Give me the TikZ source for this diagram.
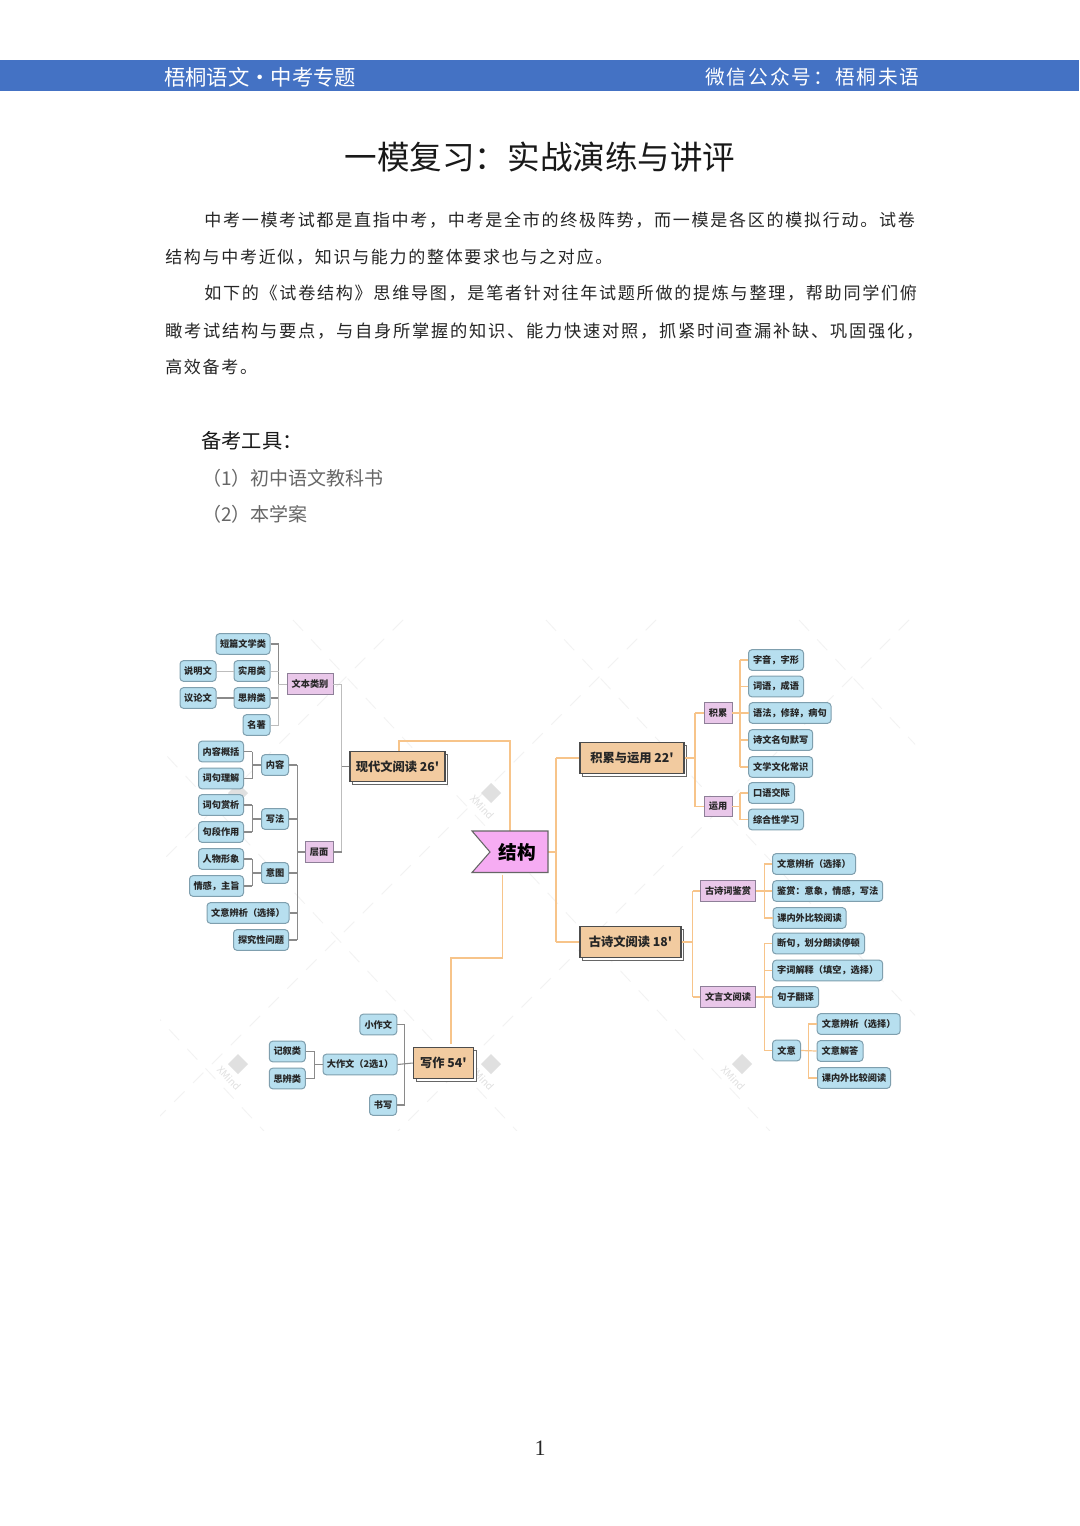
\documentclass[tikz,border=0pt]{standalone}
\usepackage{fontspec}
\usetikzlibrary{shadows}
\setmainfont{Noto Sans CJK SC}
\newfontfamily\mapfont{Noto Sans CJK SC}
\newfontfamily\bodyfont[LetterSpace=10]{Noto Sans CJK SC}
\newfontfamily\numfont{Liberation Serif}
\definecolor{barblue}{HTML}{4472C4}
\definecolor{leaffill}{HTML}{B7DFEF}
\definecolor{leafline}{HTML}{7F9FAE}
\definecolor{subfill}{HTML}{E9C7E9}
\definecolor{subline}{HTML}{8E7F98}
\definecolor{mainfill}{HTML}{F2CBA0}
\definecolor{hubfill}{HTML}{F6ACF3}
\definecolor{orangeline}{HTML}{F7C48A}
\definecolor{grayline}{HTML}{8A8A8A}
\definecolor{lightline}{HTML}{BDBDBD}
\definecolor{faint}{HTML}{F2F2F2}
\tikzset{
  leaf/.style={draw=leafline,fill=leaffill,rounded corners=2.6pt,line width=.75pt,inner sep=0pt,
    minimum height=15.5pt,minimum width=#1*0.75pt,font=\fontsize{6.9pt}{8pt}\selectfont\bfseries,text=black!85},
  sub/.style={draw=subline,fill=subfill,line width=.7pt,inner sep=0pt,
    minimum height=15.2pt,minimum width=#1*0.75pt,font=\fontsize{6.9pt}{8pt}\selectfont\bfseries,text=black!85},
  mainbox/.style={draw=black!70,fill=mainfill,line width=.8pt,inner sep=0pt,
    minimum height=23pt,minimum width=#1*0.75pt,font=\mapfont\fontsize{9.2pt}{11pt}\selectfont\bfseries,text=black!85,
    copy shadow={shadow xshift=2.2pt,shadow yshift=-2.2pt,draw=black!60,fill=white}},
  bodyline/.style={anchor=west,inner sep=0pt,text=black!85,font=\bodyfont\fontsize{#1}{15pt}\selectfont},
  bodyline/.default=12.75pt,
  toolline/.style={anchor=west,inner sep=0pt,text=black!60,font=\fontsize{14.25pt}{16pt}\selectfont},
  oline/.style={draw=orangeline,line width=.9pt},
  gline/.style={draw=grayline,line width=.8pt},
  lline/.style={draw=lightline,line width=.7pt},
  lattice/.style={draw=faint,line width=.6pt,dash pattern=on 11pt off 9pt},
  wmtext/.style={rotate=-47,inner sep=0pt,text=black!12,font=\fontsize{7.5pt}{8pt}\selectfont},
  hubtextstyle/.style={inner sep=0pt,text=black,font=\fontsize{14pt}{16pt}\selectfont\bfseries}
}
\begin{document}
\begin{tikzpicture}[x=0.75pt,y=-0.75pt]
\useasboundingbox (0,0) rectangle (1080,1526);
\fill[white] (0,0) rectangle (1080,1526);

% header
\fill[barblue] (0,60.5) rectangle (1079,91);
\node[inner sep=0pt,anchor=west,text=white,font=\fontsize{16pt}{18pt}\selectfont] (hl) at (164,77.5) {梧桐语文·中考专题};
\node[inner sep=0pt,anchor=west,text=white,font=\bodyfont\fontsize{14.75pt}{16pt}\selectfont] (hr) at (705,77.5) {微信公众号：梧桐未语};

% title and body
\node[inner sep=0pt,text=black!90,font=\fontsize{24.4pt}{28pt}\selectfont] (title) at (540,157) {一模复习：实战演练与讲评};
\node[bodyline=12.78pt] (b1) at (204,220) {中考一模考试都是直指中考，中考是全市的终极阵势，而一模是各区的模拟行动。试卷};
\node[bodyline] (b2) at (165,257) {结构与中考近似，知识与能力的整体要求也与之对应。};
\node[bodyline=12.82pt] (b3) at (204,293) {如下的《试卷结构》思维导图，是笔者针对往年试题所做的提炼与整理，帮助同学们俯};
\node[bodyline=12.95pt] (b4) at (165,331) {瞰考试结构与要点，与自身所掌握的知识、能力快速对照，抓紧时间查漏补缺、巩固强化，};
\node[bodyline] (b5) at (165,367) {高效备考。};
\node[anchor=west,inner sep=0pt,text=black!90,font=\fontsize{15.2pt}{18pt}\selectfont] (t0) at (201,441) {备考工具：};
\node[toolline] (t1) at (202,478) {（1）初中语文教科书};
\node[toolline] (t2) at (202,514.5) {（2）本学案};

% faint lattice and watermarks behind the map
\begin{scope}
\clip (160,615) rectangle (915,1130);
\foreach \k in {-3,-2,-1,0,1,2}{
  \draw[lattice] ({293+\k*253},620) -- ({293+\k*253+560},{620+600});
  \draw[lattice] ({403+\k*253},620) -- ({403+\k*253-560},{620+560});
}
\end{scope}
\foreach \wx/\wy/\wn in {491/793/wma,491/1064/wmc,238/1064/wmd,742/1064/wme}{
  \fill[black!12] (\wx,\wy-10) -- (\wx+10,\wy) -- (\wx,\wy+10) -- (\wx-10,\wy) -- cycle;
  \node[wmtext] (\wn) at (\wx-9,\wy+14) {XMind};
}
\fill[black!12] (238,783) -- (248,793) -- (238,803) -- (228,793) -- cycle;

% hub anchor points
\coordinate (hA) at (548,852);
\coordinate (hT) at (510,831);
\coordinate (hB) at (502.5,874.5);

% main topics
\node[mainbox=95] (m1) at (397.5,766.5) {现代文阅读 26'};
\node[mainbox=104] (m2) at (632,758) {积累与运用 22'};
\node[mainbox=101] (m3) at (630.5,942) {古诗文阅读 18'};
\node[mainbox=60] (m4) at (443.3,1063) {写作 54'};

% left upper
\node[sub=46] (wb) at (310,684) {文本类别};
\node[leaf=54] (a1) at (243,644) {短篇文学类};
\node[leaf=36] (a2) at (252,671) {实用类};
\node[leaf=36] (a2x) at (198,671) {说明文};
\node[leaf=36] (a3) at (252,698) {思辨类};
\node[leaf=36] (a3x) at (198,698) {议论文};
\node[leaf=27] (a4) at (256.5,725) {名著};

\node[sub=28] (cm) at (319,852) {层面};
\node[leaf=27] (c1) at (275,765) {内容};
\node[leaf=27] (c2) at (275,819) {写法};
\node[leaf=27] (c3) at (275,873) {意图};
\node[leaf=82] (c4) at (248,913) {文意辨析（选择）};
\node[leaf=55] (c5) at (261,940) {探究性问题};
\node[leaf=45] (d1) at (221,751.5) {内容概括};
\node[leaf=45] (d2) at (221,778.5) {词句理解};
\node[leaf=45] (d3) at (221,805) {词句赏析};
\node[leaf=45] (d4) at (221,832) {句段作用};
\node[leaf=45] (d5) at (221,859) {人物形象};
\node[leaf=54] (d6) at (216.5,886) {情感，主旨};

% right upper
\node[sub=28] (jl) at (718,713) {积累};
\node[sub=28] (yy) at (718,806.5) {运用};
\node[leaf=55] (e1) at (776,660) {字音，字形};
\node[leaf=55] (e2) at (776,686.5) {词语，成语};
\node[leaf=82] (e3) at (790,713) {语法，修辞，病句};
\node[leaf=64] (e4) at (780.7,740) {诗文名句默写};
\node[leaf=64] (e5) at (780.7,767) {文学文化常识};
\node[leaf=46] (e6) at (771.5,793) {口语交际};
\node[leaf=55] (e7) at (776,819.5) {综合性学习};

% right lower
\node[sub=55] (gs) at (728,891) {古诗词鉴赏};
\node[sub=55] (wy) at (728,997) {文言文阅读};
\node[leaf=83] (f1) at (814,864) {文意辨析（选择）};
\node[leaf=110] (f2) at (827.7,891) {鉴赏：意象，情感，写法};
\node[leaf=73] (f3) at (809.5,918) {课内外比较阅读};
\node[leaf=92] (f4) at (818.5,943.5) {断句，划分朗读停顿};
\node[leaf=110] (f5) at (827.7,970.5) {字词解释（填空，选择）};
\node[leaf=46] (f6) at (795.7,997) {句子翻译};
\node[leaf=28] (f7) at (786.5,1050.5) {文意};
\node[leaf=83] (g1) at (858.7,1024) {文意辨析（选择）};
\node[leaf=46] (g2) at (840,1051) {文意解答};
\node[leaf=73] (g3) at (854,1078) {课内外比较阅读};

% writing
\node[leaf=37] (h1) at (378.3,1024.5) {小作文};
\node[leaf=74] (h2) at (360,1064.5) {大作文（2选1）};
\node[leaf=27] (h3) at (383,1105) {书写};
\node[leaf=36] (h4) at (287.3,1051.5) {记叙类};
\node[leaf=36] (h5) at (287.3,1078.5) {思辨类};

% bus positions
\coordinate (ta) at (278.7,0);
\coordinate (tb) at (341.7,0);
\coordinate (tc) at (297.3,0);
\coordinate (td) at (252.3,0);
\coordinate (te) at (695,0);
\coordinate (tf) at (740,0);
\coordinate (tg) at (556,0);
\coordinate (th) at (692.7,0);
\coordinate (ti) at (764.3,0);
\coordinate (tj) at (808.3,0);
\coordinate (tk) at (404.7,0);
\coordinate (tl) at (314.3,0);

% orange links from hub
\coordinate (m1top) at (399,751);
\coordinate (c1a) at (399,741);
\coordinate (c1b) at (510,741);
\draw[oline] (m1top) -- (c1a) -- (c1b) -- (hT);
\coordinate (c2a) at (502.5,958);
\coordinate (c2b) at (451,958);
\coordinate (m4top) at (451,1044);
\draw[oline] (hB) -- (c2a) -- (c2b) -- (m4top);
\draw[oline] (hA) -- (hA -| tg);
\draw[oline] (m2.west -| tg) -- (m3.west -| tg);
\draw[oline] (m2.west -| tg) -- (m2.west);
\draw[oline] (m3.west -| tg) -- (m3.west);

% left connectors
\draw[gline] (wb.west -| ta) -- (a1.east -| ta);
\draw[lline] (wb.west) -- (wb.west -| ta);
\draw[gline] (a1.east) -- (a1.east -| ta);
\draw[lline] (a2.east) -- (a2.east -| ta);
\draw[gline] (a3.east) -- (a3.east -| ta);
\draw[lline] (a4.east) -- (a4.east -| ta);
\draw[lline] (wb.west -| ta) -- (a4.east -| ta);
\draw[lline] (a2x.east) -- (a2.west);
\draw[gline] (a3x.east) -- (a3.west);
\draw[lline] (wb.east) -- (wb.east -| tb) -- (cm.east -| tb);
\draw[gline] (cm.east) -- (cm.east -| tb);
\draw[gline] (m1.west) -- (m1.west -| tb);
\draw[gline] (cm.west) -- (cm.west -| tc);
\draw[gline] (c1.east -| tc) -- (c5.east -| tc);
\foreach \n in {c1,c2,c3,c4,c5}{\draw[gline] (\n.east) -- (\n.east -| tc);}
\foreach \n/\p in {d1/c1,d2/c1,d3/c2,d4/c2,d5/c3,d6/c3}{
  \draw[gline] (\n.east) -- (\n.east -| td);
  \draw[gline] (\n.east -| td) -- (\p.west -| td) -- (\p.west);
}

% right upper connectors
\draw[oline] (m2.east) -- (m2.east -| te);
\draw[oline] (jl.west -| te) -- (yy.west -| te);
\draw[oline] (jl.west -| te) -- (jl.west);
\draw[oline] (yy.west -| te) -- (yy.west);
\draw[oline] (jl.east) -- (jl.east -| tf);
\draw[oline] (e1.west -| tf) -- (e5.west -| tf);
\foreach \n in {e1,e2,e3,e4,e5}{\draw[oline] (\n.west) -- (\n.west -| tf);}
\draw[oline] (yy.east) -- (yy.east -| tf);
\draw[oline] (e6.west -| tf) -- (e7.west -| tf);
\foreach \n in {e6,e7}{\draw[oline] (\n.west) -- (\n.west -| tf);}

% right lower connectors
\draw[oline] (m3.east) -- (m3.east -| th);
\draw[oline] (gs.west -| th) -- (wy.west -| th);
\draw[oline] (gs.west -| th) -- (gs.west);
\draw[oline] (wy.west -| th) -- (wy.west);
\draw[oline] (gs.east) -- (f2.west);
\draw[oline] (f1.west -| ti) -- (f3.west -| ti);
\foreach \n in {f1,f3}{\draw[oline] (\n.west) -- (\n.west -| ti);}
\draw[oline] (wy.east) -- (f6.west);
\draw[oline] (f4.west -| ti) -- (f7.west -| ti);
\foreach \n in {f4,f5,f7}{\draw[oline] (\n.west) -- (\n.west -| ti);}
\draw[oline] (f7.east) -- (g2.west);
\draw[oline] (g1.west -| tj) -- (g3.west -| tj);
\foreach \n in {g1,g3}{\draw[oline] (\n.west) -- (\n.west -| tj);}

% writing connectors
\draw[gline] (m4.west) -- (h2.east);
\draw[gline] (h1.east) -- (h1.east -| tk) -- (h3.east -| tk) -- (h3.east);
\draw[gline] (h2.west) -- (h2.west -| tl);
\draw[gline] (h4.east) -- (h4.east -| tl) -- (h5.east -| tl) -- (h5.east);

% hub banner
\coordinate (p1) at (472,831);
\coordinate (p2) at (548,831);
\coordinate (p3) at (548,872.5);
\coordinate (p4) at (472,872.5);
\coordinate (p5) at (490,852);
\filldraw[fill=hubfill,draw=black!60,line width=.8pt] (p1) -- (p2) -- (p3) -- (p4) -- (p5) -- cycle;
\node[hubtextstyle] (hub) at (517,852) {结构};

% page number
\node[inner sep=0pt,text=black!85,font=\numfont\fontsize{16.5pt}{18pt}\selectfont] (pg) at (540,1448) {1};
\end{tikzpicture}
\end{document}
